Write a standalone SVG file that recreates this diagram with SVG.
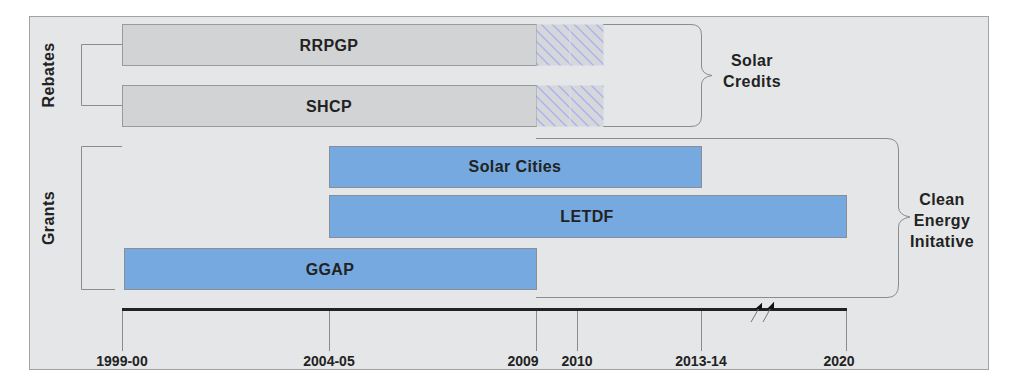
<svg xmlns="http://www.w3.org/2000/svg" width="1018" height="388" viewBox="0 0 1018 388">
<style>
.lbl{font-family:"Liberation Sans",Arial,sans-serif;font-weight:bold;fill:#222;text-anchor:middle}
.bar{font-size:16px;letter-spacing:0.4px}
.side{font-size:16px;letter-spacing:0.4px}
.yr{font-size:14px}
.grey{fill:#d2d3d5;stroke:#999a9c;stroke-width:1}
.blue{fill:#75a9df;stroke:#8a8f96;stroke-width:1}
.brk{fill:none;stroke:#8c8c8c;stroke-width:1}
.tick{stroke:#8c8c8c;stroke-width:1}
</style>
<defs>
<pattern id="hatch" patternUnits="userSpaceOnUse" width="11" height="11">
<rect width="11" height="11" fill="#d6d7db"/>
<path d="M-1,-1 L12,12 M-1,10 L1,12 M10,-1 L12,1" stroke="#aab0ee" stroke-width="1.3"/>
</pattern>
</defs>
<rect x="0" y="0" width="1018" height="388" fill="#ffffff"/>
<rect id="panel" x="29.5" y="16.5" width="959" height="353" fill="#e5e6e8" stroke="#a3a3a5" stroke-width="1"/>

<g id="connectors">
<path class="brk" d="M122,44.5 H81.5 V105.5 H122"/>
<path class="brk" d="M122,146.5 H81.5 V289.5 H115"/>
<path class="brk" d="M603,24.5 H691 Q701.5,24.5 701.5,35 V66 Q701.5,74 712,75.5 Q701.5,77 701.5,85 V116 Q701.5,126.5 691,126.5 H603"/>
<path class="brk" d="M536,138.5 H887 Q898.5,138.5 898.5,150 V207 Q898.5,215 910,217 Q898.5,219 898.5,227 V285 Q898.5,297.5 887,297.5 H536"/>
</g>

<g id="label-rebates"><text class="lbl side" transform="translate(54,75) rotate(-90)">Rebates</text></g>
<g id="label-grants"><text class="lbl side" transform="translate(54,218) rotate(-90)">Grants</text></g>

<g id="rrpgp">
<rect class="grey" x="122.5" y="24.5" width="414" height="41"/>
<rect x="536.5" y="24.5" width="67" height="41" fill="url(#hatch)"/>
<line x1="570" y1="24.5" x2="570" y2="65.5" stroke="#dfe0e3" stroke-width="1"/>
<text class="lbl bar" x="329" y="51">RRPGP</text>
</g>
<g id="shcp">
<rect class="grey" x="122.5" y="85.5" width="414" height="41"/>
<rect x="536.5" y="85.5" width="67" height="41" fill="url(#hatch)"/>
<line x1="570" y1="85.5" x2="570" y2="126.5" stroke="#dfe0e3" stroke-width="1"/>
<text class="lbl bar" x="329" y="112">SHCP</text>
</g>

<g id="solar-credits">
<text class="lbl side" x="752" y="66">Solar</text>
<text class="lbl side" x="752" y="87">Credits</text>
</g>

<g id="solar-cities">
<rect class="blue" x="329.5" y="146.5" width="372" height="41"/>
<text class="lbl bar" x="515" y="172">Solar Cities</text>
</g>
<g id="letdf">
<rect class="blue" x="329.5" y="195.5" width="517" height="42"/>
<text class="lbl bar" x="587" y="222">LETDF</text>
</g>
<g id="ggap">
<rect class="blue" x="124.5" y="248.5" width="412" height="41"/>
<text class="lbl bar" x="330" y="275">GGAP</text>
</g>

<g id="clean-energy">
<text class="lbl side" x="942" y="205">Clean</text>
<text class="lbl side" x="942" y="226">Energy</text>
<text class="lbl side" x="942" y="247">Initative</text>
</g>

<g id="timeline">
<line class="tick" x1="122.5" y1="309" x2="122.5" y2="351"/>
<line class="tick" x1="329.5" y1="309" x2="329.5" y2="351"/>
<line class="tick" x1="536.5" y1="309" x2="536.5" y2="351"/>
<line class="tick" x1="577.5" y1="309" x2="577.5" y2="351"/>
<line class="tick" x1="701.5" y1="309" x2="701.5" y2="351"/>
<line class="tick" x1="846.5" y1="309" x2="846.5" y2="351"/>
<line x1="122" y1="309.5" x2="847" y2="309.5" stroke="#222" stroke-width="3"/>
<line x1="751" y1="322" x2="762" y2="303" stroke="#777" stroke-width="1"/>
<line x1="763" y1="322" x2="774" y2="302" stroke="#777" stroke-width="1"/>
<polygon points="755,309 762,303 762,309" fill="#111"/>
<polygon points="767,309 774,302 774,309" fill="#111"/>
<text class="lbl yr" x="122" y="366">1999-00</text>
<text class="lbl yr" x="329" y="366">2004-05</text>
<text class="lbl yr" x="523" y="366">2009</text>
<text class="lbl yr" x="577" y="366">2010</text>
<text class="lbl yr" x="701" y="366">2013-14</text>
<text class="lbl yr" x="839" y="366">2020</text>
</g>
</svg>
